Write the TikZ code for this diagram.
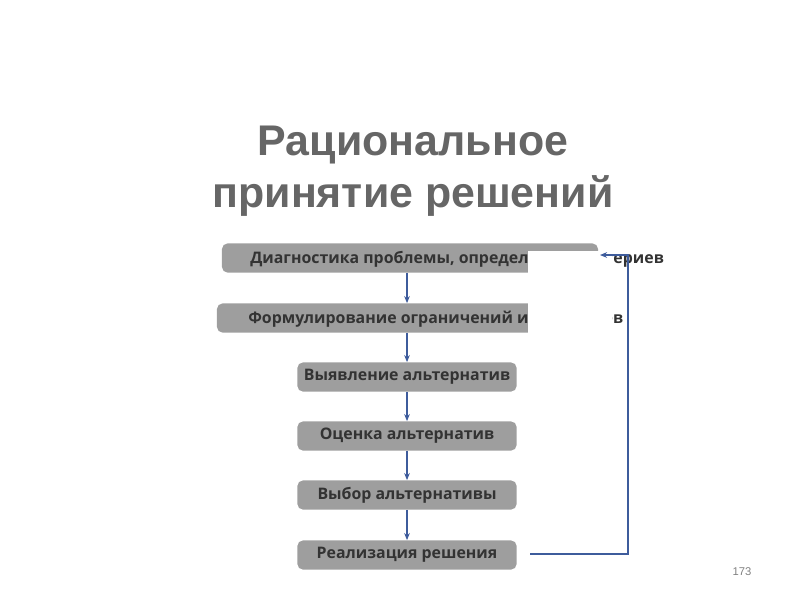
\documentclass[tikz,border=0pt]{standalone}
\usepackage{fontspec}
\setmainfont{Liberation Sans}
\newfontfamily\boxfont{Open Sans}
\usetikzlibrary{arrows.meta}
\definecolor{linkblue}{HTML}{3E5C9C}
\begin{document}
\begin{tikzpicture}[x=0.025cm,y=-0.025cm,
  stepbox/.style={fill=black!38,rounded corners=4pt,minimum height=0.73cm,inner sep=0pt,font=\boxfont\bfseries\fontsize{11.3}{13}\selectfont,text=black!80},
  boxtext/.style={inner sep=0pt,font=\boxfont\bfseries\fontsize{11.3}{13}\selectfont,text=black!80,anchor=west},
  link/.style={draw=linkblue,line width=0.9pt,-{Stealth[length=5pt,width=4pt]}}]
\useasboundingbox (0,0) rectangle (800,600);
\node[font=\bfseries\fontsize{30.5}{37}\selectfont,text=black!60,align=center] (title) at (413,171) {Рациональное\\принятие решений};
\node[stepbox,minimum width=9.4cm] (b1) at (410,258) {};
\node[boxtext] (t1) at (250,259) {Диагностика проблемы, определение критериев};
\node[stepbox,minimum width=9.55cm] (b2) at (408,318) {};
\node[boxtext] (t2) at (248,319) {Формулирование ограничений и критериев};
\node[stepbox,minimum width=5.48cm] (b3) at (407,377) {Выявление альтернатив};
\node[stepbox,minimum width=5.48cm] (b4) at (407,436) {Оценка альтернатив};
\node[stepbox,minimum width=5.48cm] (b5) at (407,495) {Выбор альтернативы};
\node[stepbox,minimum width=5.48cm] (b6) at (407,555) {Реализация решения};
\fill[white] (528,251) rectangle (612,340);
\draw[link] (b1.south -| b3) -- (b2.north -| b3);
\draw[link] (b2.south -| b3) -- (b3.north);
\draw[link] (b3) -- (b4);
\draw[link] (b4) -- (b5);
\draw[link] (b5) -- (b6);
\coordinate (s) at (530,554);
\coordinate (e) at (600,255);
\draw[link] (s) -- (628,554) -- (628,255) -- (e);
\node[font=\fontsize{8}{9}\selectfont,text=black!50] (pg) at (742,572) {173};
\end{tikzpicture}
\end{document}
